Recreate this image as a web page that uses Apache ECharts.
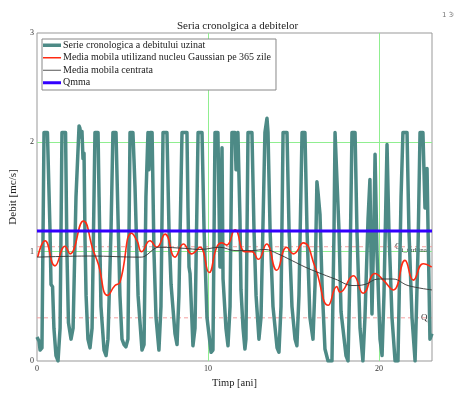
<!DOCTYPE html>
<html><head><meta charset="utf-8">
<script src="https://cdn.jsdelivr.net/npm/echarts@6/dist/echarts.min.js"></script>
<style>html,body{margin:0;padding:0;background:#fff}#c{width:454px;height:394px}</style>
</head><body><div id="c"></div>
<script>
// ---- data (time in years, flow in m3/s) ----
const seriesNames = ['Serie cronologica a debitului uzinat','Media mobila utilizand nucleu Gaussian pe 365 zile','Media mobila centrata','Qmma'];
const flowTime = [0.00,0.12,0.18,0.29,0.41,0.61,0.76,0.82,0.91,0.99,1.11,1.23,1.35,1.46,1.67,1.75,1.84,1.99,2.11,2.28,2.46,2.51,2.57,2.63,2.69,2.75,2.81,2.87,2.98,3.10,3.22,3.39,3.57,3.63,3.74,3.92,4.04,4.15,4.33,4.44,4.62,4.74,4.85,4.97,5.09,5.20,5.32,5.44,5.61,5.67,5.73,5.91,6.14,6.26,6.37,6.49,6.55,6.61,6.73,6.84,6.96,7.13,7.25,7.37,7.60,7.72,7.84,8.07,8.19,8.30,8.48,8.77,8.83,8.89,8.95,9.12,9.24,9.42,9.65,9.77,9.94,10.18,10.29,10.41,10.58,10.70,10.82,10.88,11.05,11.17,11.29,11.40,11.58,11.64,11.70,11.75,11.87,11.93,12.05,12.16,12.22,12.34,12.57,12.69,12.81,12.98,13.10,13.33,13.45,13.51,13.63,13.80,14.04,14.15,14.27,14.39,14.62,14.74,14.91,15.09,15.20,15.32,15.50,15.67,15.79,15.96,16.14,16.26,16.37,16.43,16.55,16.67,16.84,17.02,17.25,17.37,17.43,17.54,17.66,17.78,17.89,18.07,18.19,18.30,18.42,18.60,18.71,18.89,19.06,19.18,19.36,19.47,19.53,19.59,19.71,19.77,19.88,20.06,20.18,20.29,20.47,20.58,20.76,20.94,21.11,21.29,21.40,21.64,21.75,21.93,22.11,22.28,22.40,22.57,22.69,22.81,22.87,22.98,23.10];
const flowValue = [0.22,0.18,0.10,0.12,2.09,2.09,1.20,0.70,0.68,0.30,0.05,0.00,0.30,2.09,2.09,1.00,0.35,0.20,0.30,1.50,2.15,2.13,2.05,2.10,1.85,1.90,1.10,0.60,0.20,0.12,0.30,2.09,2.09,1.50,0.50,0.10,0.05,0.20,1.20,2.09,2.09,1.30,0.60,0.20,0.15,0.13,0.20,2.09,2.09,1.85,1.60,0.60,0.10,0.15,1.50,2.09,1.75,2.09,2.09,1.00,0.40,0.10,0.50,2.09,2.09,1.20,0.70,0.25,0.15,0.60,2.09,2.09,1.40,0.86,0.80,0.14,0.30,2.09,2.09,1.20,0.40,0.08,0.10,2.09,2.09,0.86,1.95,0.75,0.30,0.14,0.50,2.09,2.09,1.75,2.05,2.09,1.30,0.65,0.30,0.11,0.20,2.09,2.09,1.20,0.60,0.20,0.40,2.09,2.22,2.09,1.20,0.50,0.12,0.08,0.50,2.09,2.09,1.20,0.50,0.20,0.14,0.60,2.09,2.09,1.20,0.40,0.20,0.70,1.64,1.55,1.34,0.70,0.11,0.00,0.00,1.20,2.09,2.09,1.20,0.45,0.30,0.05,0.00,0.80,2.09,2.09,1.20,0.30,0.00,0.40,1.30,1.66,1.00,0.43,1.30,1.89,1.00,0.20,0.05,0.60,1.98,1.20,0.40,0.00,0.00,1.50,2.09,2.09,1.20,0.40,0.00,1.00,2.09,2.09,1.40,1.76,1.20,0.20,0.25];
const gaussTime = [0.04,0.47,1.05,1.64,1.93,2.71,3.29,3.58,4.13,4.56,4.85,5.54,5.85,6.12,6.61,7.00,7.49,8.07,8.56,9.05,9.53,10.06,10.51,10.80,11.09,11.58,12.16,12.56,12.94,13.43,14.02,14.60,14.99,15.57,16.26,17.04,17.53,17.72,18.50,19.08,19.77,20.25,20.84,21.52,22.01,22.59,23.08];
const gaussValue = [0.95,1.10,0.87,1.05,0.98,1.28,1.01,0.89,0.60,0.69,0.72,1.17,1.10,1.00,1.10,1.04,1.16,0.95,1.07,0.98,1.04,0.81,1.04,1.08,1.06,1.20,1.00,1.00,0.93,1.07,0.83,1.04,0.98,1.08,0.86,0.51,0.68,0.63,0.78,0.62,0.80,0.74,0.65,0.92,0.74,0.89,0.86];
const centTime = [0,3.10,6.02,6.32,6.90,7.19,8.65,9.53,10.70,11.58,12.57,13.33,14.09,14.89,15.67,16.43,17.43,18.48,19.18,19.94,20.82,21.70,23.10];
const centValue = [0.95,0.96,0.95,0.96,1.03,1.04,1.03,1.02,1.04,1.01,1.01,1.02,0.98,0.92,0.86,0.81,0.75,0.69,0.70,0.75,0.75,0.69,0.65];
const qmma = 1.19;
const qTurbina = 1.045;
const qServ = 0.395;
const xMax = 23.1;

const zip = (a,b) => a.map((v,i)=>[v,b[i]]);
const serif = 'Liberation Serif';
const icons = ['path://M0,0h36v7h-36z','path://M0,0h36v3h-36z','path://M0,0h36v2h-36z','path://M0,0h36v6h-36z'];
const chart = echarts.init(document.getElementById('c'));
chart.setOption({
  animation:false,
  backgroundColor:'#fff',
  title:{text:'Seria cronolgica a debitelor', left:172, top:16, textStyle:{fontFamily:serif,fontSize:11,fontWeight:'normal',color:'#222'}},
  grid:{left:37,right:22,top:33,bottom:29,show:true,borderColor:'#999',borderWidth:1},
  legend:{orient:'vertical',left:42,top:39,itemWidth:18,itemHeight:12.5,itemGap:0,padding:[0,5,1,1],
    borderColor:'#888',borderWidth:1,backgroundColor:'#fff',selectedMode:false,symbolKeepAspect:true,
    textStyle:{fontFamily:serif,fontSize:10,color:'#222',lineHeight:12.5,padding:[0,0,0,-3]},
    data:seriesNames.map((n,i)=>({name:n,icon:icons[i]}))},
  xAxis:{type:'value',min:0,max:xMax,interval:10,
    name:'Timp [ani]',nameLocation:'middle',nameGap:17,nameTextStyle:{fontFamily:serif,fontSize:10.5,color:'#222'},
    axisLine:{show:false},axisTick:{show:false},
    axisLabel:{fontFamily:serif,fontSize:8,color:'#333',margin:4,showMaxLabel:false},
    splitLine:{show:true,showMinLine:false,showMaxLine:false,lineStyle:{color:'#90ee90',width:1}}},
  yAxis:{type:'value',min:0,max:3,interval:1,
    name:'Debit [mc/s]',nameLocation:'middle',nameGap:17,nameTextStyle:{fontFamily:serif,fontSize:11,color:'#222'},
    axisLine:{show:false},axisTick:{show:false},
    axisLabel:{fontFamily:serif,fontSize:8,color:'#333',margin:3},
    splitLine:{show:true,showMinLine:false,showMaxLine:false,lineStyle:{color:'#90ee90',width:1}}},
  series:[
    {type:'line',name:'qt',data:[[0,qTurbina],[xMax,qTurbina]],symbol:'none',silent:true,lineStyle:{color:'#f4a0a0',width:1,type:[4,3]}},
    {type:'line',name:'qs',data:[[0,qServ],[xMax,qServ]],symbol:'none',silent:true,lineStyle:{color:'#f4a0a0',width:1,type:[4,3]}},
    {type:'line',name:seriesNames[0],data:zip(flowTime,flowValue),symbol:'none',lineStyle:{color:'#4d8a86',width:3.5,join:'round'},itemStyle:{color:'#4d8a86'}},
    {type:'line',name:seriesNames[1],data:zip(gaussTime,gaussValue),symbol:'none',smooth:0.5,lineStyle:{color:'#ff2a12',width:1.6},itemStyle:{color:'#ff2a12'}},
    {type:'line',name:seriesNames[2],data:zip(centTime,centValue),symbol:'none',smooth:0.4,lineStyle:{color:'#333',width:0.9},itemStyle:{color:'#555'}},
    {type:'line',name:seriesNames[3],data:[[0,qmma],[xMax,qmma]],symbol:'none',lineStyle:{color:'#3300ff',width:3},itemStyle:{color:'#3300ff'}}
  ]
});
const p1 = chart.convertToPixel({gridIndex:0},[20.94,qTurbina]);
const p2 = chart.convertToPixel({gridIndex:0},[22.46,qServ]);
const lab = (p,sub)=>({type:'text',x:p[0],y:p[1],style:{text:'{q|Q}{s|'+sub+'}',verticalAlign:'middle',
  rich:{q:{fontFamily:serif,fontSize:9,fill:'#333'},s:{fontFamily:serif,fontSize:7,fill:'#333',padding:[6,0,0,0]}}}});
chart.setOption({graphic:[lab(p1,'i_turbina'),lab(p2,'s'),
  {type:'text',x:442,y:12,style:{text:'1 30',fontFamily:'DejaVu Sans',fontSize:7,fill:'#777'}}]});
</script></body></html>
